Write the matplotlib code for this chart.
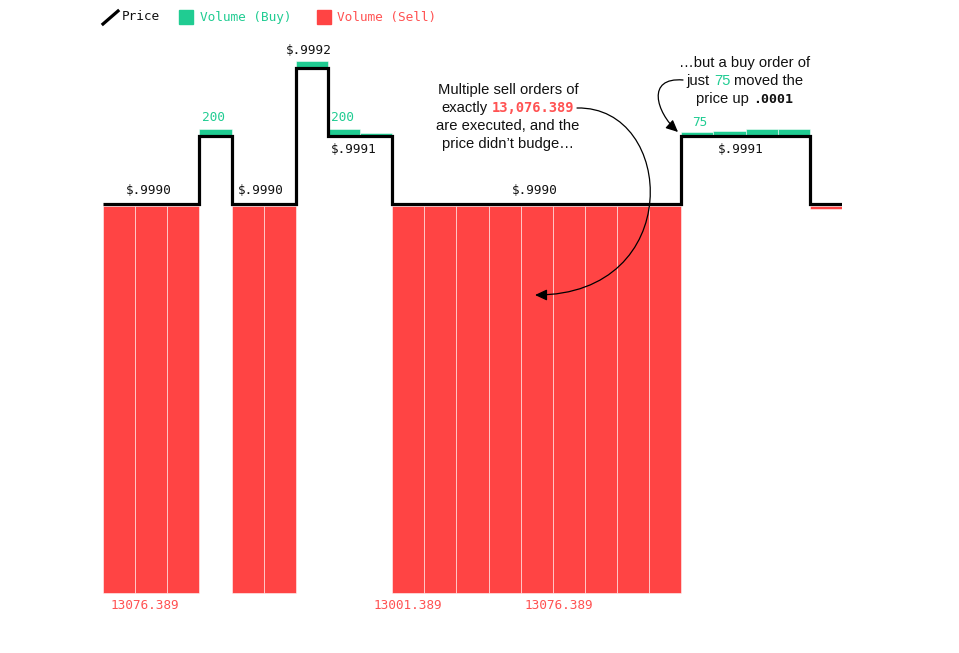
import numpy as np
import matplotlib.pyplot as plt
from matplotlib.offsetbox import TextArea, HPacker, VPacker, AnnotationBbox
from matplotlib.lines import Line2D
from matplotlib.patches import Rectangle, FancyArrowPatch
from matplotlib.path import Path
from matplotlib.transforms import Affine2D

MONO = 'DejaVu Sans Mono'
SANS = 'Liberation Sans'
GREEN = '#20cc92'
RED = '#ff4444'
RED_TXT = '#ff5252'
INK = '#111111'

# one entry per executed order, in time order
price = [0.9990, 0.9990, 0.9990, 0.9991, 0.9990, 0.9990, 0.9992, 0.9991, 0.9991,
         0.9990, 0.9990, 0.9990, 0.9990, 0.9990, 0.9990, 0.9990, 0.9990, 0.9990,
         0.9991, 0.9991, 0.9991, 0.9991, 0.9990]
volume = [13076.389, 13076.389, 13076.389, 200, 13076.389, 13076.389, 200, 200, 60,
          13001.389, 13076.389, 13076.389, 13076.389, 13076.389, 13076.389, 13076.389,
          13076.389, 13076.389, 75, 110, 180, 180, 120]
side = ['sell', 'sell', 'sell', 'buy', 'sell', 'sell', 'buy', 'buy', 'buy',
        'sell', 'sell', 'sell', 'sell', 'sell', 'sell', 'sell', 'sell', 'sell',
        'buy', 'buy', 'buy', 'buy', 'sell']

price_labels = ['$.9990', '$.9990', '$.9992', '$.9991', '$.9990', '$.9991']
buy_labels = ['200', '200', '75']
sell_labels = ['13076.389', '13001.389', '13076.389']

W, H = 959, 653
fig = plt.figure(figsize=(W / 100, H / 100), dpi=100)
ax = fig.add_axes([103 / W, 0, 739 / W, 1])
ax.set_xlim(0, len(price))
ax.set_ylim(0.99834, 0.99930)
ax.axis('off')

# volume drawn in price units so bars hang off the price level;
# the volume scale is clamped at its domain max like the original
k = 4.382e-8
vmax = 13001.389
gap = 2.2e-6  # half the price line, bars start at its edge
p = np.array(price)
v = np.minimum(np.array(volume), vmax)
s = np.array(side)
x = np.arange(len(p)) + 0.5
buy = s == 'buy'
sell = s == 'sell'

ax.bar(x[buy], v[buy] * k, bottom=p[buy] + gap, width=1, color=GREEN,
       edgecolor=(1, 1, 1, 0.6), linewidth=0.6, zorder=2)
ax.bar(x[sell], -v[sell] * k, bottom=p[sell] - gap, width=1, color=RED,
       edgecolor=(1, 1, 1, 0.6), linewidth=0.6, zorder=2)

ax.step(np.arange(len(p) + 1), list(p) + [p[-1]], where='post', color='black',
        lw=2.3, zorder=3, solid_joinstyle='miter', solid_capstyle='butt')

# price labels: (slot, points offset)
spots = [(1.42, 9.6), (4.9, 9.6), (6.39, 12.6), (7.8, -9.4), (13.44, 9.6), (19.86, -9.4)]
for txt, (sx, dy) in zip(price_labels, spots):
    i = int(sx)
    ax.annotate(txt, xy=(sx, p[i]), xytext=(0, dy), textcoords='offset points',
                ha='center', va='center', fontfamily=MONO, fontsize=9.2, color=INK)

for txt, (sx, dy) in zip(buy_labels, [(3.44, 13.7), (7.44, 13.7), (18.57, 9.6)]):
    i = int(sx)
    ax.annotate(txt, xy=(sx, p[i]), xytext=(0, dy), textcoords='offset points',
                ha='center', va='center', fontfamily=MONO, fontsize=9.2, color=GREEN)

floor = (p[sell] - gap - v[sell] * k).min()
for txt, sx in zip(sell_labels, [1.31, 9.5, 14.19]):
    ax.annotate(txt, xy=(sx, floor), xytext=(0, -8.8), textcoords='offset points',
                ha='center', va='center', fontfamily=MONO, fontsize=9.2, color=RED_TXT)

# legend, drawn by hand
fig.add_artist(Line2D([103 / W, 118 / W], [1 - 24 / H, 1 - 11 / H], color='black', lw=2.3))
fig.text(122 / W, 1 - 17 / H, 'Price', fontfamily=MONO, fontsize=9.2, color=INK, va='center')
fig.add_artist(Rectangle((179 / W, 1 - 24 / H), 14 / W, 14 / H, color=GREEN,
                         transform=fig.transFigure))
fig.text(200 / W, 1 - 17 / H, 'Volume (Buy)', fontfamily=MONO, fontsize=9.2, color=GREEN, va='center')
fig.add_artist(Rectangle((317 / W, 1 - 24 / H), 14 / W, 14 / H, color=RED,
                         transform=fig.transFigure))
fig.text(337 / W, 1 - 17 / H, 'Volume (Sell)', fontfamily=MONO, fontsize=9.2, color=RED_TXT, va='center')

sans = dict(fontfamily=SANS, fontsize=10.6, color=INK)


def line(*parts):
    boxes = [TextArea(t, textprops=pr) for t, pr in parts]
    return HPacker(children=boxes, sep=3, pad=0, align='baseline')


left_note = VPacker(children=[
    line(('Multiple sell orders of', sans)),
    line(('exactly', sans),
         ('13,076.389', dict(fontfamily=MONO, fontsize=9.9, color=RED_TXT, fontweight='bold'))),
    line(('are executed, and the', sans)),
    line(('price didn\u2019t budge\u2026', sans)),
], align='center', pad=0, sep=3)
fig.add_artist(AnnotationBbox(left_note, (508, H - 117), xycoords='figure pixels',
                              frameon=False, box_alignment=(0.5, 0.5), pad=0))

right_note = VPacker(children=[
    line(('\u2026but a buy order of', sans)),
    line(('just', sans), ('75', dict(fontfamily=SANS, fontsize=10.6, color=GREEN)),
         ('moved the', sans)),
    line(('price up', sans),
         ('.0001', dict(fontfamily=MONO, fontsize=9.6, color=INK, fontweight='bold'))),
], align='center', pad=0, sep=2.7)
fig.add_artist(AnnotationBbox(right_note, (745, H - 81), xycoords='figure pixels',
                              frameon=False, box_alignment=(0.5, 0.5), pad=0))

# curved pointers, cubic curves given in figure pixels (y down)
to_fig = Affine2D().scale(1 / W, -1 / H).translate(0, 1) + fig.transFigure
curves = [
    [(577, 108), (676, 106), (686, 295), (535, 295)],
    [(683, 80), (646, 77), (656, 112), (678, 132)],
]
for pts in curves:
    path = Path(pts, [Path.MOVETO, Path.CURVE4, Path.CURVE4, Path.CURVE4])
    fig.add_artist(FancyArrowPatch(path=path, transform=to_fig,
                                   arrowstyle='-|>,head_length=0.6,head_width=0.28',
                                   color='black', lw=0.9, mutation_scale=12))

fig.savefig('out.png', dpi=100)
